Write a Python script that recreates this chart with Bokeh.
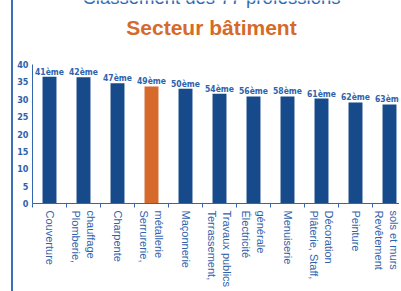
from bokeh.plotting import figure
from bokeh.models import ColumnDataSource, Range1d, FixedTicker, Label
from bokeh.core.properties import value
from bokeh.embed import file_html
from bokeh.resources import INLINE

# ---- data ----
professions = ["Couverture", "Plomberie,\nchauffage", "Charpente", "Serrurerie,\nmétallerie",
               "Maçonnerie", "Terrassement,\nTravaux publics", "Électricité\ngénérale",
               "Menuiserie", "Plâterie, Staff,\nDécoration", "Peinture", "Revêtement\nsols et murs"]
scores = [36.5, 36.3, 34.6, 33.7, 33.0, 31.6, 30.8, 30.8, 30.2, 29.1, 28.5]
ranks = ["41ème", "42ème", "47ème", "49ème", "50ème", "54ème", "56ème", "58ème", "61ème", "62ème", "63ème"]
highlighted = "Serrurerie,\nmétallerie"
y_ticks = [0, 5, 10, 15, 20, 25, 30, 35, 40]
title = "Secteur bâtiment"
supertitle = "Classement des 77 professions"

BLUE_BAR = "#164a8a"
ORANGE = "#d56a2b"
TXT_BLUE = "#2f62ab"
AXIS_BLUE = "#3466ad"
NARROW = "'Liberation Sans Narrow', 'DejaVu Sans Condensed', 'Liberation Sans'"

n = len(professions)
centers = [i + 0.5 for i in range(n)]
colors = [ORANGE if c == highlighted else BLUE_BAR for c in professions]
src = ColumnDataSource(dict(x=centers, top=scores, color=colors, rank=ranks))

PX = 3.475  # px per unit
p = figure(width=388, height=291, output_backend="svg", toolbar_location=None,
           title_location=None,
           x_range=Range1d(0, 369 / 34), y_range=Range1d(0, 203 / PX),
           min_border_left=19, min_border_right=0, min_border_top=0, min_border_bottom=88,
           margin=(0, 0, 0, 11))
p.styles = {"border-left": "2px solid #3b70b8"}
p.outline_line_color = None
p.xgrid.visible = False
p.ygrid.visible = False
p.background_fill_color = "white"
p.border_fill_color = "white"

p.vbar(x="x", top="top", width=0.41, color="color", line_color=None, source=src)
p.text(x="x", y="top", text="rank", source=src, text_align="center", text_baseline="alphabetic",
       y_offset=-5, text_font=value(NARROW), text_font_style="bold", text_font_size="8.5px",
       text_color=TXT_BLUE)

# y axis
ya = p.yaxis[0]
ya.ticker = FixedTicker(ticks=y_ticks, minor_ticks=[])
ya.bounds = (0, 40)
ya.major_tick_out = 0
ya.major_tick_in = 0
ya.minor_tick_out = 0
ya.minor_tick_in = 0
ya.axis_line_color = AXIS_BLUE
ya.major_label_text_font = NARROW
ya.major_label_text_font_style = "bold"
ya.major_label_text_font_size = "9px"
ya.major_label_text_color = TXT_BLUE
ya.major_label_standoff = 4

# x axis: rotated labels read bottom-to-top, so line order is reversed for display
xa = p.xaxis[0]
xa.ticker = FixedTicker(ticks=centers, minor_ticks=list(range(n + 1)))
xa.major_label_overrides = {c: "\n".join(reversed(lab.split("\n")))
                            for c, lab in zip(centers, professions)}
xa.major_label_orientation = "vertical"
xa.major_tick_out = 0
xa.major_tick_in = 0
xa.minor_tick_out = 4
xa.minor_tick_in = 0
xa.minor_tick_line_color = AXIS_BLUE
xa.axis_line_color = AXIS_BLUE
xa.major_label_text_font = "Liberation Sans"
xa.major_label_text_font_size = "11px"
xa.major_label_text_color = TXT_BLUE
xa.major_label_standoff = 3

# titles (inside the frame area, above the bars)
p.add_layout(Label(x=(211 - 32) / 34, y=(203 - 27) / PX, text=title, text_align="center",
                   text_baseline="alphabetic", text_font="Liberation Sans", text_font_style="bold",
                   text_font_size="21px", text_color=ORANGE))
p.add_layout(Label(x=(211 - 32) / 34, y=(203 + 3) / PX, text=supertitle, text_align="center",
                   text_baseline="alphabetic", text_font="Liberation Sans",
                   text_font_size="18.5px", text_color="#2f6cb5"))

open("out.html", "w").write(file_html(p, INLINE))
